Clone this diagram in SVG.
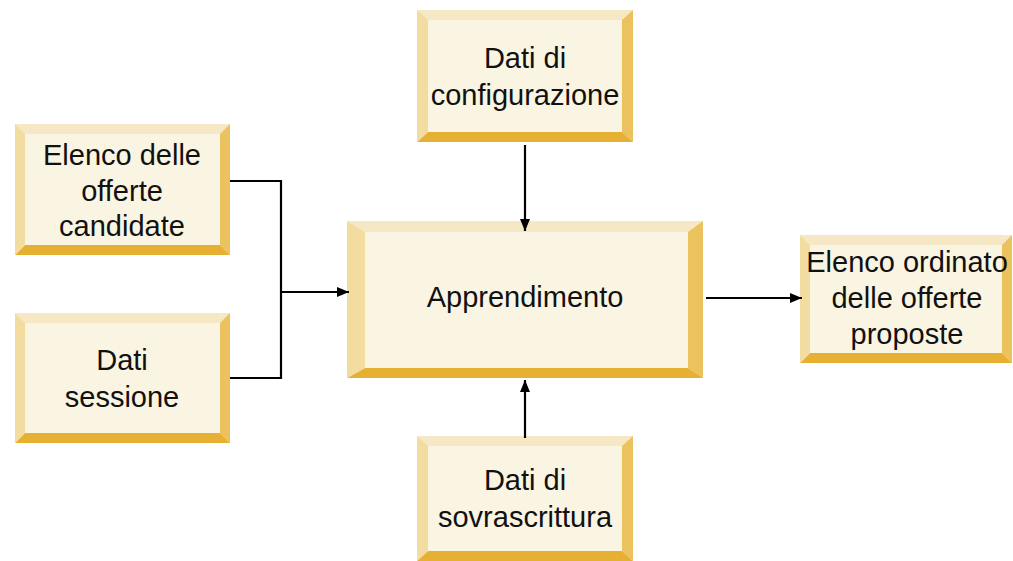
<svg xmlns="http://www.w3.org/2000/svg" width="1013" height="561" viewBox="0 0 1013 561">
  <defs>
    <marker id="arr" viewBox="0 0 12 10" refX="12" refY="5" markerWidth="12" markerHeight="10" markerUnits="userSpaceOnUse" orient="auto">
      <path d="M0,0 L12,5 L0,10 Z" fill="#000"/>
    </marker>
  </defs>
  <style>
    .face { fill: #FAF4E2; }
    .bt { fill: #F6E8C4; }
    .bl { fill: #F2DCA0; }
    .br { fill: #ECC25E; }
    .bb { fill: #E6B033; }
    text { font-family: "Liberation Sans", Arial, sans-serif; font-size: 29px; fill: #111; text-anchor: middle; }
    .conn { fill: none; stroke: #000; stroke-width: 2.2; }
  </style>
  <rect width="1013" height="561" fill="#fff"/>

  <g id="candidate">
    <rect class="face" x="15" y="124" width="215" height="131"/>
    <polygon class="bt" points="15,124 230,124 220,134 25,134"/>
    <polygon class="br" points="230,124 230,255 220,245 220,134"/>
    <polygon class="bb" points="15,255 230,255 220,245 25,245"/>
    <polygon class="bl" points="15,124 25,134 25,245 15,255"/>
    <text x="122" y="165">Elenco delle</text>
    <text x="122" y="201">offerte</text>
    <text x="122" y="236">candidate</text>
  </g>

  <g id="sessione">
    <rect class="face" x="15" y="313" width="215" height="130"/>
    <polygon class="bt" points="15,313 230,313 220,323 25,323"/>
    <polygon class="br" points="230,313 230,443 220,433 220,323"/>
    <polygon class="bb" points="15,443 230,443 220,433 25,433"/>
    <polygon class="bl" points="15,313 25,323 25,433 15,443"/>
    <text x="122" y="370">Dati</text>
    <text x="122" y="407">sessione</text>
  </g>

  <g id="configurazione">
    <rect class="face" x="417" y="10" width="216" height="132"/>
    <polygon class="bt" points="417,10 633,10 622,20 428,20"/>
    <polygon class="br" points="633,10 633,142 622,132 622,20"/>
    <polygon class="bb" points="417,142 633,142 622,132 428,132"/>
    <polygon class="bl" points="417,10 428,20 428,132 417,142"/>
    <text x="525" y="68">Dati di</text>
    <text x="525" y="105">configurazione</text>
  </g>

  <g id="apprendimento">
    <rect class="face" x="347" y="221" width="356" height="157"/>
    <polygon class="bt" points="347,221 703,221 688,232 365,232"/>
    <polygon class="br" points="703,221 703,378 688,368 688,232"/>
    <polygon class="bb" points="347,378 703,378 688,368 365,368"/>
    <polygon class="bl" points="347,221 365,232 365,368 347,378"/>
    <text x="525" y="307">Apprendimento</text>
  </g>

  <g id="ordinato">
    <rect class="face" x="800" y="235" width="212" height="128"/>
    <polygon class="bt" points="800,235 1012,235 1002,245 810,245"/>
    <polygon class="br" points="1012,235 1012,363 1002,353 1002,245"/>
    <polygon class="bb" points="800,363 1012,363 1002,353 810,353"/>
    <polygon class="bl" points="800,235 810,245 810,353 800,363"/>
    <text x="907" y="272">Elenco ordinato</text>
    <text x="907" y="308">delle offerte</text>
    <text x="907" y="344">proposte</text>
  </g>

  <g id="sovrascrittura">
    <rect class="face" x="417" y="436" width="216" height="125"/>
    <polygon class="bt" points="417,436 633,436 622,446 428,446"/>
    <polygon class="br" points="633,436 633,561 622,551 622,446"/>
    <polygon class="bb" points="417,561 633,561 622,551 428,551"/>
    <polygon class="bl" points="417,436 428,446 428,551 417,561"/>
    <text x="525" y="490">Dati di</text>
    <text x="525" y="527">sovrascrittura</text>
  </g>

  <g id="connectors">
    <path class="conn" d="M230,181 H281 V378 H230"/>
    <path class="conn" d="M281,292 H349" marker-end="url(#arr)"/>
    <path class="conn" d="M525,145 V231" marker-end="url(#arr)"/>
    <path class="conn" d="M525,438 V380" marker-end="url(#arr)"/>
    <path class="conn" d="M706,298 H802" marker-end="url(#arr)"/>
  </g>
</svg>
